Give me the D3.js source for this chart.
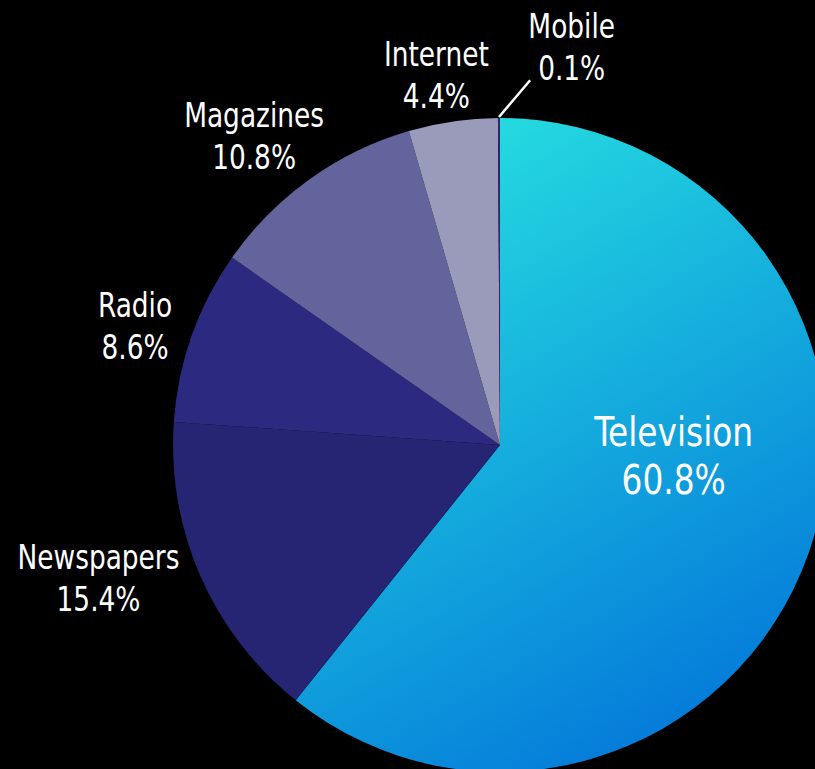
<!DOCTYPE html>
<html>
<head>
<meta charset="utf-8">
<script src="https://cdn.jsdelivr.net/npm/d3@7/dist/d3.min.js"></script>
<style>
  html, body { margin: 0; padding: 0; background: #000; overflow: hidden; }
  svg { display: block; }
  text { font-family: "DejaVu Sans Condensed", "DejaVu Sans", sans-serif; font-stretch: condensed; fill: #fff; }
</style>
</head>
<body>
<svg id="chart" width="815" height="769"></svg>
<script>
// Share of advertising spend by medium (%)
const categories = ["Television", "Newspapers", "Radio", "Magazines", "Internet", "Mobile"];
const shares = [60.8, 15.4, 8.6, 10.8, 4.4, 0.1];

const fills = {
  Newspapers: "#252573",
  Radio: "#2c2a80",
  Magazines: "#64649c",
  Internet: "#9a9abb",
  Mobile: "#2a2a72"
};

// label placement: radius from the centre and angular nudge (degrees) from the slice midpoint
const labelPlace = {
  Television: { r: 174, nudge: -15.7, size: 41, gap: 48 },
  Newspapers: { r: 423, nudge: 5.3, size: 33, gap: 42 },
  Radio:      { r: 384, nudge: -1.4, size: 33, gap: 42 },
  Magazines:  { r: 395, nudge: -2.9, size: 33, gap: 42 },
  Internet:   { r: 375, nudge: -1.5, size: 33, gap: 42 },
  Mobile:     { r: 404, nudge: 10.4, size: 33, gap: 42 }
};

const width = 815, height = 769;
const cx = 500, cy = 445, radius = 327;

const svg = d3.select("#chart");

// gradient coordinates are in the pie group's space (origin at the pie centre)
const defs = svg.append("defs");
const grad = defs.append("linearGradient")
  .attr("id", "tvGrad")
  .attr("gradientUnits", "userSpaceOnUse")
  .attr("x1", -radius * 0.1).attr("y1", -radius)
  .attr("x2", radius).attr("y2", radius * 0.9);
grad.append("stop").attr("offset", "0%").attr("stop-color", "#25dce0");
grad.append("stop").attr("offset", "100%").attr("stop-color", "#006fd9");

const data = categories.map((c, i) => ({ name: c, value: shares[i] }));

const pie = d3.pie().sort(null).value(d => d.value);
const arcs = pie(data);

const arc = d3.arc().innerRadius(0).outerRadius(radius);

const g = svg.append("g").attr("transform", `translate(${cx},${cy})`);

g.selectAll("path.slice")
  .data(arcs)
  .join("path")
  .attr("class", "slice")
  .attr("d", arc)
  .attr("fill", d => d.data.name === "Television" ? "url(#tvGrad)" : fills[d.data.name]);

function polar(angleRad, r) {
  return [r * Math.sin(angleRad), -r * Math.cos(angleRad)];
}

// leader line for the tiny Mobile slice
const mobile = arcs.find(d => d.data.name === "Mobile");
const mobileMid = (mobile.startAngle + mobile.endAngle) / 2;
const p0 = polar(mobileMid, radius + 1);
const p1 = polar(mobileMid + 4.9 * Math.PI / 180, 366);
g.append("line")
  .attr("x1", p0[0]).attr("y1", p0[1])
  .attr("x2", p1[0]).attr("y2", p1[1])
  .attr("stroke", "#fff")
  .attr("stroke-width", 2.5);

const labels = g.selectAll("g.label")
  .data(arcs)
  .join("g")
  .attr("class", "label")
  .attr("transform", d => {
    const lp = labelPlace[d.data.name];
    const mid = (d.startAngle + d.endAngle) / 2 + lp.nudge * Math.PI / 180;
    const [x, y] = polar(mid, lp.r);
    return `translate(${x},${y}) scale(0.89,1)`;
  });

labels.each(function(d) {
  const lp = labelPlace[d.data.name];
  const sel = d3.select(this);
  const t = sel.append("text")
    .attr("text-anchor", "middle")
    .attr("font-size", lp.size);
  t.append("tspan").attr("x", 0).attr("y", -lp.gap * 0.215).text(d.data.name);
  t.append("tspan").attr("x", 0).attr("y", lp.gap * 0.785).text(d3.format(".1f")(d.data.value) + "%");
});
</script>
</body>
</html>
